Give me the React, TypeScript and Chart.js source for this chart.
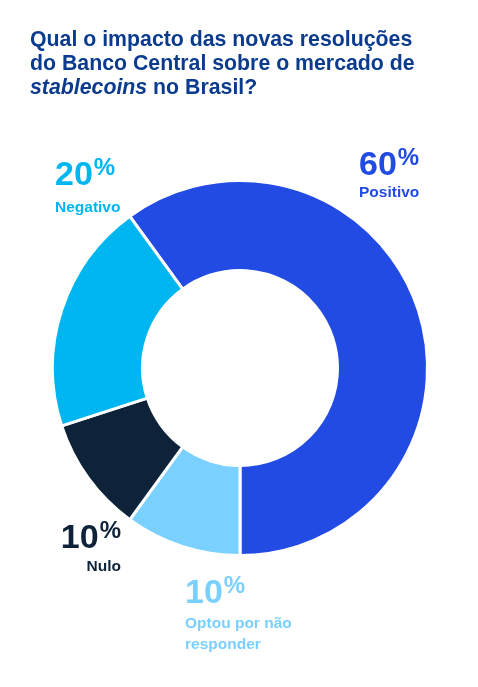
import { useEffect, useRef } from 'react';
import { Chart, registerables } from 'chart.js';

Chart.register(...registerables);

// data
const categories = ['Positivo', 'Optou por não responder', 'Nulo', 'Negativo'];
const shares = [60, 10, 10, 20];
const sliceColors = ['#214be2', '#7ad0fe', '#0e233a', '#00b6f1'];
const labelLines = [['Positivo'], ['Optou por não', 'responder'], ['Nulo'], ['Negativo']];

// hand placed annotation spots (px in the 478x687 frame)
const labelSpots = [
  { x: 359, numTop: 146, nameTop: 181, align: 'left' },
  { x: 185, numTop: 574, nameTop: 612, align: 'left' },
  { x: 121, numTop: 519, nameTop: 555, align: 'right' },
  { x: 55, numTop: 156, nameTop: 196, align: 'left' },
];

const FONT = '"Liberation Sans", Arial, Helvetica, sans-serif';

const App = () => {
  const canvasRef = useRef<HTMLCanvasElement | null>(null);

  useEffect(() => {
    if (!canvasRef.current) return;
    const chart = new Chart(canvasRef.current, {
      type: 'doughnut',
      data: {
        labels: categories,
        datasets: [
          {
            data: shares,
            backgroundColor: sliceColors,
            borderColor: '#ffffff',
            borderWidth: 3,
            hoverOffset: 0,
          },
        ],
      },
      options: {
        responsive: false,
        animation: false,
        rotation: -36,
        cutout: '52%',
        layout: { padding: { left: 51, right: 49, top: 179, bottom: 130 } },
        plugins: {
          legend: { display: false },
          tooltip: { enabled: false },
        },
        events: [],
      },
    });
    return () => chart.destroy();
  }, []);

  return (
    <div
      style={{
        position: 'absolute',
        left: 0,
        top: 0,
        width: 478,
        height: 687,
        background: '#fff',
        fontFamily: FONT,
        overflow: 'hidden',
      }}
    >
      <canvas
        ref={canvasRef}
        width={478}
        height={687}
        style={{ position: 'absolute', left: 0, top: 0, width: 478, height: 687 }}
      />
      <div
        style={{
          position: 'absolute',
          left: 30,
          top: 27,
          fontSize: 21.3,
          lineHeight: '24px',
          fontWeight: 700,
          color: '#0b3b8f',
          whiteSpace: 'nowrap',
        }}
      >
        Qual o impacto das novas resoluções
        <br />
        do Banco Central sobre o mercado de
        <br />
        <i>stablecoins</i> no Brasil?
      </div>
      {categories.map((cat, i) => {
        const spot = labelSpots[i];
        const side: any =
          spot.align === 'right' ? { right: 478 - spot.x, textAlign: 'right' } : { left: spot.x };
        return (
          <div key={cat}>
            <div
              style={{
                position: 'absolute',
                top: spot.numTop,
                ...side,
                fontSize: 34,
                lineHeight: '34px',
                fontWeight: 700,
                color: sliceColors[i],
                whiteSpace: 'nowrap',
              }}
            >
              {shares[i]}
              <span style={{ fontSize: 24, position: 'relative', top: -10, marginLeft: 1 }}>%</span>
            </div>
            <div
              style={{
                position: 'absolute',
                top: spot.nameTop,
                ...side,
                fontSize: 15.5,
                lineHeight: '21px',
                fontWeight: 700,
                color: sliceColors[i],
                whiteSpace: 'nowrap',
              }}
            >
              {labelLines[i].map((line) => (
                <div key={line}>{line}</div>
              ))}
            </div>
          </div>
        );
      })}
    </div>
  );
};

export default App;
